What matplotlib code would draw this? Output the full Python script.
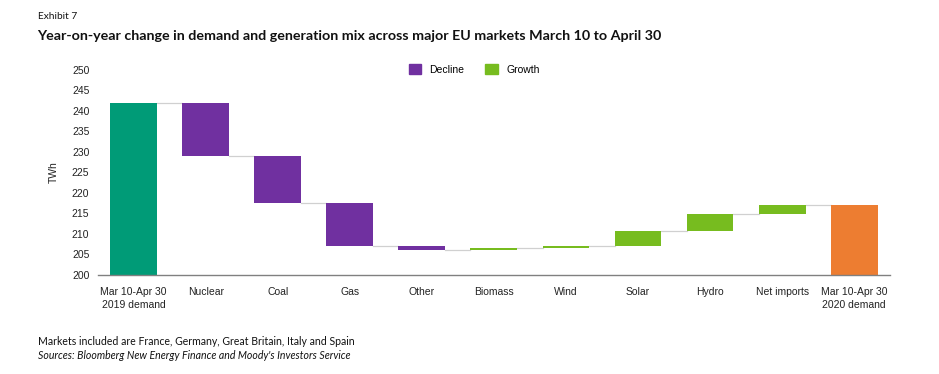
import matplotlib
matplotlib.use('Agg')
import matplotlib.pyplot as plt
from matplotlib.patches import Patch

# data (TWh)
categories = ["Mar 10-Apr 30\n2019 demand", "Nuclear", "Coal", "Gas", "Other", "Biomass",
              "Wind", "Solar", "Hydro", "Net imports", "Mar 10-Apr 30\n2020 demand"]
start_demand = 242.0
changes = [-12.9, -11.5, -10.5, -1.0, 0.4, 0.6, 3.5, 4.3, 2.2]

C_START = '#009B77'
C_END = '#ED7D31'
C_DECL = '#7030A0'
C_GROW = '#77BC1F'

plt.rcParams['font.family'] = ['Liberation Sans', 'DejaVu Sans']

fig = plt.figure(figsize=(9.39, 3.74), dpi=100)
ax = fig.add_axes([0.104, 0.265, 0.844, 0.548])

w = 0.65
ybase = 200
# bars
ax.bar(0, start_demand - ybase, bottom=ybase, width=w, color=C_START)
levels = [start_demand]
level = start_demand
for i, c in enumerate(changes, start=1):
    new = level + c
    ax.bar(i, abs(c), bottom=min(level, new), width=w, color=C_DECL if c < 0 else C_GROW)
    level = new
    levels.append(level)
end_demand = level
ax.bar(len(categories) - 1, end_demand - ybase, bottom=ybase, width=w, color=C_END)

# connectors
for i, lv in enumerate(levels):
    ax.plot([i + w / 2, i + 1 - w / 2], [lv, lv], color='#d0d0d0', lw=0.9, zorder=0)

ax.set_xlim(-0.5, 10.5)
ax.set_ylim(200, 250)
ax.set_yticks(range(200, 251, 5))
ax.set_xticks(range(len(categories)))
ax.set_xticklabels(categories, fontsize=7.5, color='#222222', linespacing=1.3)
ax.tick_params(axis='both', length=0, labelsize=7.5, colors='#222222')
ax.tick_params(axis='x', pad=9)
ax.tick_params(axis='y', pad=6)
for s in ['top', 'right', 'left']:
    ax.spines[s].set_visible(False)
ax.spines['bottom'].set_color('#808080')
ax.spines['bottom'].set_linewidth(1.0)
ax.set_ylabel('TWh', fontsize=7.5, color='#222222', labelpad=9)

handles = [Patch(color=C_DECL, label='Decline'), Patch(color=C_GROW, label='Growth')]
leg = fig.legend(handles=handles, loc='center', bbox_to_anchor=(0.505, 0.815), ncol=2,
                 frameon=False, fontsize=7.5, handlelength=1.2, handleheight=1.2,
                 columnspacing=2.0, handletextpad=0.8)

fig.text(0.041, 0.955, 'Exhibit 7', fontsize=7.3, family=['Lato', 'DejaVu Sans'],
         va='center', color='#111111')
fig.text(0.04, 0.905, 'Year-on-year change in demand and generation mix across major EU markets March 10 to April 30',
         fontsize=10.3, fontweight='bold', family=['Lato', 'DejaVu Sans'], va='center',
         color='#111111')
fig.text(0.041, 0.088, 'Markets included are France, Germany, Great Britain, Italy and Spain',
         fontsize=7.6, family=['Lato', 'DejaVu Sans'], va='center', color='#111111')
fig.text(0.041, 0.05, "Sources: Bloomberg New Energy Finance and Moody's Investors Service",
         fontsize=7.6, style='italic', family=['Lato', 'DejaVu Sans'], va='center',
         color='#111111')

fig.savefig('out.png', dpi=100)
